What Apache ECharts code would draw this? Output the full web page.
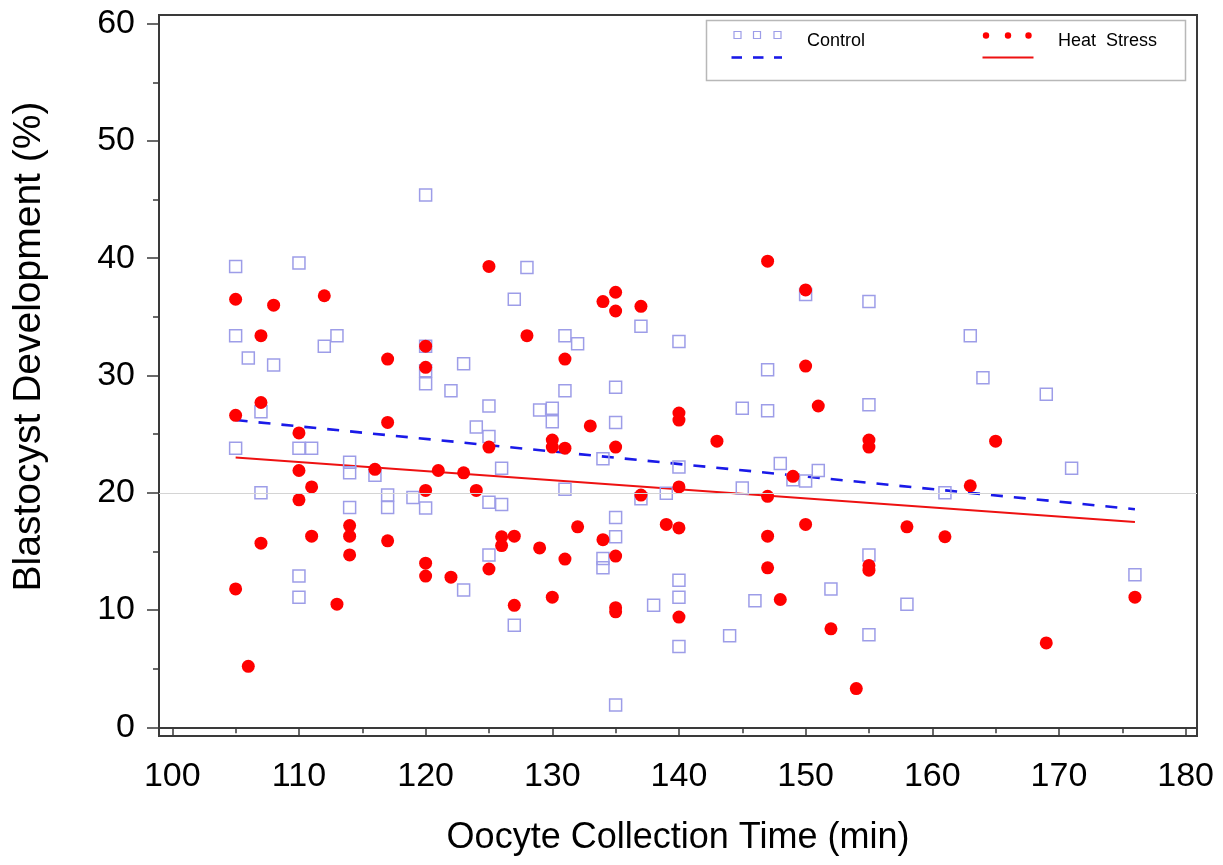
<!DOCTYPE html>
<html>
<head>
<meta charset="utf-8">
<script src="https://cdn.jsdelivr.net/npm/echarts@6.0.0/dist/echarts.min.js"></script>
<style>
  html, body { margin: 0; padding: 0; background: #fff; }
  #chart { width: 1223px; height: 865px; }
</style>
</head>
<body>
<div id="chart"></div>
<script>
// ---- Data ----
const controlTime = [105,105,105,106,107,107,108,110,110,110,110,111,112,113,114,114,114,116,117,117,119,120,120,120,120,120,122,123,123,124,125,125,125,125,126,126,127,127,128,129,130,130,131,131,131,132,134,134,134,135,135,135,135,135,137,137,138,139,140,140,140,140,140,144,145,145,146,147,147,148,149,150,150,151,152,155,155,155,155,158,161,163,164,169,171,176];
const controlBlast = [39.3,33.4,23.8,31.5,26.9,20.0,30.9,39.6,23.8,12.9,11.1,23.8,32.5,33.4,22.6,21.7,18.75,21.5,19.8,18.75,19.6,45.4,32.5,30.4,29.3,18.7,28.7,31.0,11.7,25.6,27.4,24.8,19.2,14.7,22.1,19.0,36.5,8.7,39.2,27.05,27.2,26.05,33.4,28.7,20.3,32.7,22.9,14.4,13.6,29.0,26.0,17.9,16.25,1.9,34.2,19.5,10.4,19.95,32.9,22.2,12.55,11.1,6.9,7.8,27.2,20.4,10.8,30.5,27.0,22.5,21.1,36.9,21.0,21.9,11.8,36.3,27.5,14.7,7.9,10.5,20.0,33.4,29.8,28.4,22.1,13.0];

const heatTime = [105,105,105,106,107,107,107,108,110,110,110,111,111,112,113,114,114,114,116,117,117,117,120,120,120,120,120,121,122,123,124,125,125,125,126,126,127,127,128,129,130,130,130,131,131,131,132,133,134,134,135,135,135,135,135,135,137,137,139,140,140,140,140,140,143,147,147,147,147,148,149,150,150,150,151,152,154,155,155,155,155,158,161,163,165,169,176];
const heatBlast = [36.5,26.6,11.8,5.2,33.4,27.7,15.7,36.0,25.1,21.9,19.4,20.5,16.3,36.8,10.5,17.2,16.3,14.7,22.0,31.4,26.0,15.9,32.5,30.7,20.2,14.0,12.9,21.9,12.8,21.7,20.2,39.3,23.9,13.5,16.25,15.5,16.3,10.4,33.4,15.3,24.5,23.9,11.1,31.4,23.8,14.35,17.1,25.7,36.3,16.0,37.1,35.5,23.9,14.6,10.2,9.85,35.9,19.8,17.3,26.8,26.2,20.5,17.0,9.4,24.4,39.75,19.7,16.3,13.6,10.9,21.4,37.3,30.8,17.3,27.4,8.4,3.3,24.5,23.9,13.8,13.4,17.1,16.25,20.6,24.4,7.2,11.1];

// Fitted regression lines (end points)
const controlFitTime = [105, 176];
const controlFitBlast = [26.2, 18.6];
const heatFitTime = [105, 176];
const heatFitBlast = [23.0, 17.5];

// Reference line
const refLineValue = 20;

// Ticks
const xTickValues = [100,110,120,130,140,150,160,170,180];
const xMinorTickValues = [105,115,125,135,145,155,165,175];
const yTickValues = [0,10,20,30,40,50,60];
const yMinorTickValues = [5,15,25,35,45,55];

const seriesNames = ['Control', 'Heat Stress'];
const xTitle = 'Oocyte Collection Time (min)';
const yTitle = 'Blastocyst Development (%)';

// ---- Build ----
const zip = (a, b) => a.map((v, i) => [v, b[i]]);
const FONT = '"Liberation Sans", Arial, Helvetica, sans-serif';
const AXIS_COLOR = '#3a3a3a';
const X_MIN = 98.95, X_MAX = 180.9, Y_MIN = -0.74, Y_MAX = 60.74;
const gridRect = { left: 159, right: 26, top: 15, bottom: 129, outerBoundsMode: 'none', containLabel: false };

const chart = echarts.init(document.getElementById('chart'), null, { renderer: 'canvas' });

const option = {
  animation: false,
  backgroundColor: '#fff',
  grid: [
    Object.assign({ show: true, borderColor: AXIS_COLOR, borderWidth: 2, backgroundColor: 'transparent' }, gridRect),
    Object.assign({ show: false }, gridRect)
  ],
  xAxis: [
    {
      type: 'value', gridIndex: 0, min: X_MIN, max: X_MAX, position: 'bottom',
      name: xTitle, nameLocation: 'middle', nameGap: 84,
      nameTextStyle: { fontFamily: FONT, fontSize: 36, color: '#000' },
      axisLine: { show: true, lineStyle: { color: AXIS_COLOR, width: 2 } },
      axisTick: { show: true, customValues: xTickValues, length: 9, lineStyle: { color: AXIS_COLOR, width: 1.5 } },
      axisLabel: { show: true, customValues: xTickValues, fontFamily: FONT, fontSize: 34, color: '#000', margin: 24 },
      splitLine: { show: false }
    },
    {
      type: 'value', gridIndex: 1, min: X_MIN, max: X_MAX, position: 'bottom',
      axisLine: { show: false },
      axisTick: { show: true, customValues: xMinorTickValues, length: 6, lineStyle: { color: AXIS_COLOR, width: 1.5 } },
      axisLabel: { show: false },
      splitLine: { show: false }
    }
  ],
  yAxis: [
    {
      type: 'value', gridIndex: 0, min: Y_MIN, max: Y_MAX, position: 'left',
      name: yTitle, nameLocation: 'middle', nameRotate: 90, nameGap: 110,
      nameTextStyle: { fontFamily: FONT, fontSize: 39, color: '#000', padding: [0, 0, 0, 58] },
      axisLine: { show: true, lineStyle: { color: AXIS_COLOR, width: 2 } },
      axisTick: { show: true, customValues: yTickValues, length: 12, lineStyle: { color: AXIS_COLOR, width: 1.5 } },
      axisLabel: { show: true, customValues: yTickValues, fontFamily: FONT, fontSize: 34, color: '#000', margin: 24 },
      splitLine: { show: false }
    },
    {
      type: 'value', gridIndex: 1, min: Y_MIN, max: Y_MAX, position: 'left',
      axisLine: { show: false },
      axisTick: { show: true, customValues: yMinorTickValues, length: 6, lineStyle: { color: AXIS_COLOR, width: 1.5 } },
      axisLabel: { show: false },
      splitLine: { show: false }
    }
  ],
  series: [
    {
      name: seriesNames[0] + ' fit', type: 'line', xAxisIndex: 0, yAxisIndex: 0,
      data: zip(controlFitTime, controlFitBlast), showSymbol: false, silent: true, z: 2,
      lineStyle: { color: '#1a1ae8', width: 2.6, type: [12, 11] },
      markLine: {
        silent: true, symbol: 'none', label: { show: false },
        lineStyle: { color: '#d4d4d4', width: 1, type: 'solid' },
        data: [{ yAxis: refLineValue }]
      }
    },
    {
      name: seriesNames[1] + ' fit', type: 'line', xAxisIndex: 0, yAxisIndex: 0,
      data: zip(heatFitTime, heatFitBlast), showSymbol: false, silent: true, z: 2,
      lineStyle: { color: '#ee1111', width: 2, type: 'solid' }
    },
    {
      name: seriesNames[0], type: 'scatter', xAxisIndex: 0, yAxisIndex: 0, z: 3,
      data: zip(controlTime, controlBlast),
      symbol: 'rect', symbolSize: 12,
      itemStyle: { color: 'rgba(255,255,255,0)', borderColor: '#9d9de8', borderWidth: 1.5, opacity: 1 }
    },
    {
      name: seriesNames[1], type: 'scatter', xAxisIndex: 0, yAxisIndex: 0, z: 4,
      data: zip(heatTime, heatBlast),
      symbol: 'circle', symbolSize: 13,
      itemStyle: { color: '#ff0000', opacity: 1 }
    }
  ],
  graphic: [
    { type: 'rect', shape: { x: 706.5, y: 20.5, width: 479, height: 60 }, style: { fill: '#fff', stroke: '#b8b8b8', lineWidth: 1.5 }, z: 10 },
    // Control legend: small squares + dashes
    { type: 'rect', shape: { x: 734, y: 31.5, width: 7, height: 7 }, style: { fill: 'none', stroke: '#9d9de8', lineWidth: 1.2 }, z: 11 },
    { type: 'rect', shape: { x: 753.5, y: 31.5, width: 7, height: 7 }, style: { fill: 'none', stroke: '#9d9de8', lineWidth: 1.2 }, z: 11 },
    { type: 'rect', shape: { x: 774, y: 31.5, width: 7, height: 7 }, style: { fill: 'none', stroke: '#9d9de8', lineWidth: 1.2 }, z: 11 },
    { type: 'line', shape: { x1: 731.5, y1: 57.5, x2: 742, y2: 57.5 }, style: { stroke: '#1a1ae8', lineWidth: 2.6 }, z: 11 },
    { type: 'line', shape: { x1: 753, y1: 57.5, x2: 763.5, y2: 57.5 }, style: { stroke: '#1a1ae8', lineWidth: 2.6 }, z: 11 },
    { type: 'line', shape: { x1: 774, y1: 57.5, x2: 782, y2: 57.5 }, style: { stroke: '#1a1ae8', lineWidth: 2.6 }, z: 11 },
    { type: 'text', style: { text: seriesNames[0], x: 807, y: 41, verticalAlign: 'middle', fontFamily: FONT, fontSize: 18, fill: '#000' }, z: 11 },
    // Heat stress legend: small dots + line
    { type: 'circle', shape: { cx: 986, cy: 35.5, r: 3.2 }, style: { fill: '#ff0000' }, z: 11 },
    { type: 'circle', shape: { cx: 1008, cy: 35.5, r: 3.2 }, style: { fill: '#ff0000' }, z: 11 },
    { type: 'circle', shape: { cx: 1028.5, cy: 35.5, r: 3.2 }, style: { fill: '#ff0000' }, z: 11 },
    { type: 'line', shape: { x1: 982.5, y1: 57.5, x2: 1033.5, y2: 57.5 }, style: { stroke: '#ee1111', lineWidth: 2 }, z: 11 },
    { type: 'text', style: { text: 'Heat  Stress', x: 1058, y: 41, verticalAlign: 'middle', fontFamily: FONT, fontSize: 18, fill: '#000' }, z: 11 }
  ]
};

chart.setOption(option);
</script>
</body>
</html>
